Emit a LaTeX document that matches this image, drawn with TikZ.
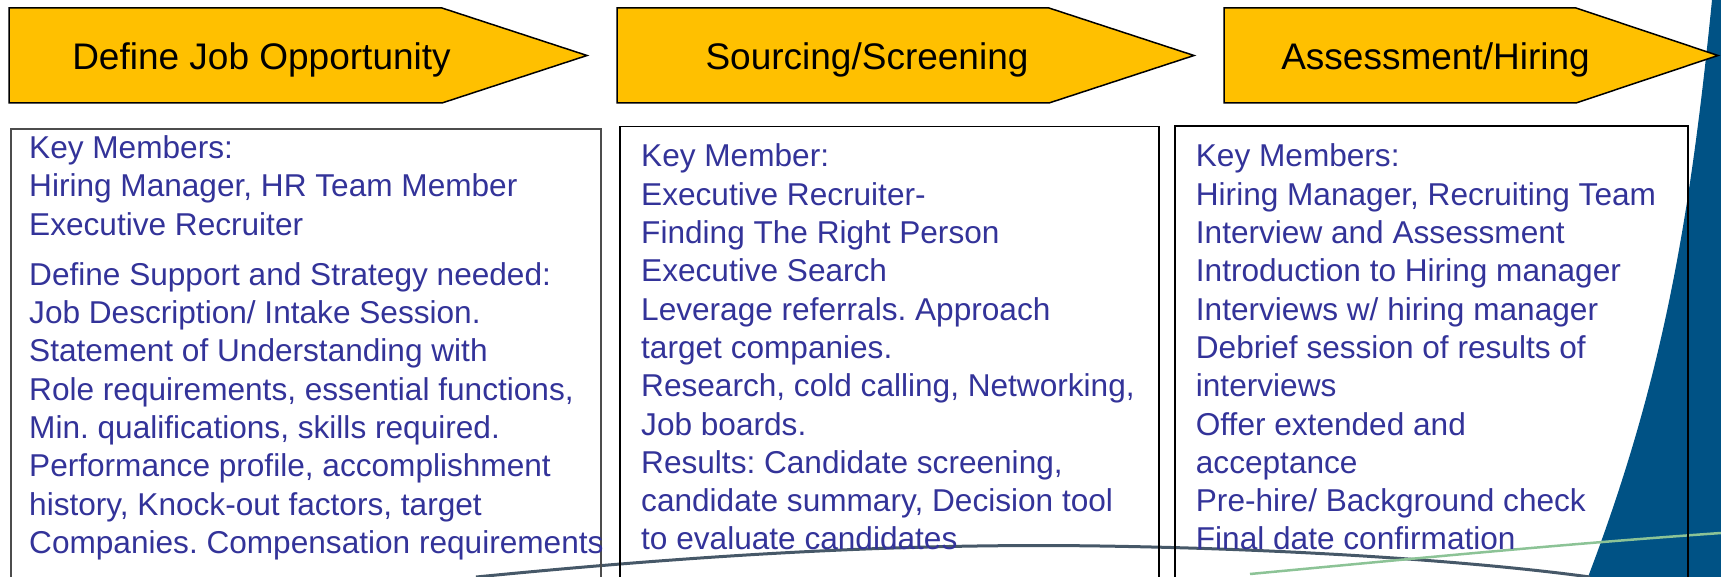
\documentclass[tikz,border=0pt]{standalone}
\usepackage{fontspec}
\setmainfont{Liberation Sans}
\frenchspacing
\definecolor{stagefill}{RGB}{255,192,0}
\definecolor{membertext}{RGB}{51,51,153}
\definecolor{slidebg}{RGB}{0,82,133}
\definecolor{swoosh}{RGB}{70,88,104}
\definecolor{swooshgreen}{RGB}{140,195,150}

\begin{document}
\begin{tikzpicture}[x=1pt,y=-1pt,
  stage/.style={draw=black,line width=1.5pt,fill=stagefill},
  stage label/.style={anchor=base,inner sep=0pt,font=\fontsize{37}{44}\selectfont},
  member box/.style={draw=black,line width=1.6pt},
  member text/.style={anchor=north west,inner sep=0pt,align=left,text=membertext,
    font=\fontsize{31.6}{38.3}\selectfont}]

  \useasboundingbox (0,0) rectangle (1721,577);
  \clip (0,0) rectangle (1721,577);

  % background
  \fill[slidebg] (1712,0) .. controls (1690,220) and (1663,380) .. (1588,577)
    -- (1721,577) -- (1721,0) -- cycle;
  \draw[swoosh,line width=3pt] (476,577) .. controls (700,555) and (900,543) .. (1100,546)
    .. controls (1300,549) and (1480,562) .. (1590,577);
  \draw[swooshgreen,line width=2.5pt] (1250,574) .. controls (1400,560) and (1550,545) .. (1721,533);

  % stages
  \draw[stage] (9,8) -- (442,8) -- (587,55.5) -- (442,103) -- (9,103) -- cycle;
  \draw[stage] (617,8) -- (1049,8) -- (1194,55.5) -- (1049,103) -- (617,103) -- cycle;
  \draw[stage] (1224,8) -- (1576,8) -- (1718,55.5) -- (1576,103) -- (1224,103) -- cycle;

  \node[stage label] (stage1) at (261.5,70) {Define Job Opportunity};
  \node[stage label] (stage2) at (867,70) {Sourcing/Screening};
  \node[stage label] (stage3) at (1435.5,70) {Assessment/Hiring};

  % member boxes
  \draw[member box,draw=black!70,line width=1.2pt] (11,577) |- (601,129) -- (601,577);
  \draw[member box] (620,577) |- (1159,126.5) -- (1159,577);
  \draw[member box] (1175,577) |- (1688,126) -- (1688,577);

  \node[member text] (members1) at (29,131.5) {\strut Key Members:\\
    Hiring Manager, HR Team Member\\
    Executive Recruiter\\[11.8pt]
    Define Support and Strategy needed:\\
    Job Description/ Intake Session.\\
    Statement of Understanding with\\
    Role requirements, essential functions,\\
    Min. qualifications, skills required.\\
    Performance profile, accomplishment\\
    history, Knock-out factors, target\\
    Companies. Compensation requirements};

  \node[member text] (members2) at (641,139.9) {\strut Key Member:\\
    Executive Recruiter-\\
    Finding The Right Person\\
    Executive Search\\
    Leverage referrals. Approach\\
    target companies.\\
    Research, cold calling, Networking,\\
    Job boards.\\
    Results: Candidate screening,\\
    candidate summary, Decision tool\\
    to evaluate candidates};

  \node[member text] (members3) at (1195.7,139.9) {\strut Key Members:\\
    Hiring Manager, Recruiting Team\\
    Interview and Assessment\\
    Introduction to Hiring manager\\
    Interviews w/ hiring manager\\
    Debrief session of results of\\
    interviews\\
    Offer extended and\\
    acceptance\\
    Pre-hire/ Background check\\
    Final date confirmation};
\end{tikzpicture}
\end{document}
